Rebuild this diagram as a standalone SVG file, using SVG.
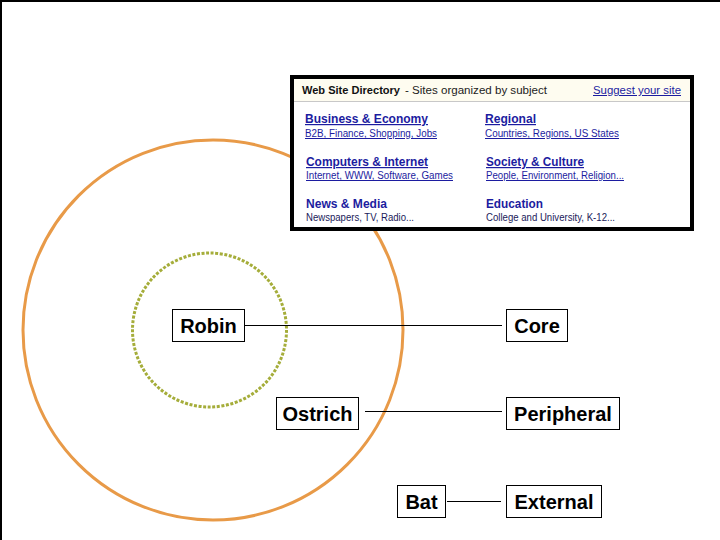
<svg xmlns="http://www.w3.org/2000/svg" width="720" height="540" viewBox="0 0 720 540">
<style>
.lbl{font-family:"Liberation Sans",Arial,sans-serif;font-size:20px;font-weight:bold;fill:#000;text-anchor:middle}
.box{fill:#fff;stroke:#000;stroke-width:1}
.conn{stroke:#000;stroke-width:1;fill:none}
.ss{font-family:"Liberation Sans",Arial,sans-serif}
.ttl{font-size:12px;font-weight:bold;fill:#1c1ca0}
.sub{font-size:10px;fill:#1c1ca0}
.subp{font-size:10px;fill:#1a1a5a}
</style>
<rect width="720" height="540" fill="#fff"/>
<path d="M1,540 V1 H720" fill="none" stroke="#000" stroke-width="2"/>

<g id="rings">
<circle cx="213" cy="330" r="190" fill="none" stroke="#e89a48" stroke-width="3"/>
<circle cx="209.5" cy="330" r="77" fill="none" stroke="#a5ad3a" stroke-width="3" stroke-dasharray="3 1.6"/>
</g>

<g id="screenshot">
<rect x="292" y="77" width="400" height="152" fill="#fff" stroke="#000" stroke-width="4"/>
<rect x="294" y="79" width="396" height="22" fill="#fefcf0"/>
<line x1="294" y1="101.5" x2="690" y2="101.5" stroke="#c8c8c8" stroke-width="1"/>
<g class="ss">
<text x="302" y="94" font-size="10" font-weight="bold" fill="#111" textLength="98" lengthAdjust="spacingAndGlyphs">Web Site Directory</text>
<text x="405" y="94" font-size="10" fill="#222" textLength="142" lengthAdjust="spacingAndGlyphs">- Sites organized by subject</text>
<text x="593" y="94" font-size="10" fill="#1c1ca0" text-decoration="underline" textLength="88" lengthAdjust="spacingAndGlyphs">Suggest your site</text>

<text class="ttl" x="305" y="123" text-decoration="underline" textLength="123" lengthAdjust="spacingAndGlyphs">Business &amp; Economy</text>
<text class="sub" x="305" y="137" text-decoration="underline" textLength="132" lengthAdjust="spacingAndGlyphs">B2B, Finance, Shopping, Jobs</text>
<text class="ttl" x="485" y="123" text-decoration="underline" textLength="51" lengthAdjust="spacingAndGlyphs">Regional</text>
<text class="sub" x="485" y="137" text-decoration="underline" textLength="134" lengthAdjust="spacingAndGlyphs">Countries, Regions, US States</text>

<text class="ttl" x="306" y="166" text-decoration="underline" textLength="122" lengthAdjust="spacingAndGlyphs">Computers &amp; Internet</text>
<text class="sub" x="306" y="179" text-decoration="underline" textLength="147" lengthAdjust="spacingAndGlyphs">Internet, WWW, Software, Games</text>
<text class="ttl" x="486" y="166" text-decoration="underline" textLength="98" lengthAdjust="spacingAndGlyphs">Society &amp; Culture</text>
<text class="sub" x="486" y="179" text-decoration="underline" textLength="138" lengthAdjust="spacingAndGlyphs">People, Environment, Religion...</text>

<text class="ttl" x="306" y="208" textLength="81" lengthAdjust="spacingAndGlyphs">News &amp; Media</text>
<text class="subp" x="306" y="221" textLength="108" lengthAdjust="spacingAndGlyphs">Newspapers, TV, Radio...</text>
<text class="ttl" x="486" y="208" textLength="57" lengthAdjust="spacingAndGlyphs">Education</text>
<text class="subp" x="486" y="221" textLength="129" lengthAdjust="spacingAndGlyphs">College and University, K-12...</text>
</g>
</g>

<g id="connectors">
<line class="conn" x1="245" y1="325.5" x2="502" y2="325.5"/>
<line class="conn" x1="365" y1="411.5" x2="502" y2="411.5"/>
<line class="conn" x1="447" y1="501.5" x2="501" y2="501.5"/>
</g>

<g id="robin"><rect class="box" x="172.5" y="309.5" width="72" height="32"/><text class="lbl" x="208.5" y="333">Robin</text></g>
<g id="core"><rect class="box" x="506.5" y="309.5" width="61" height="32"/><text class="lbl" x="537" y="333">Core</text></g>
<g id="ostrich"><rect class="box" x="276.5" y="397.5" width="82" height="32"/><text class="lbl" x="317.5" y="421">Ostrich</text></g>
<g id="peripheral"><rect class="box" x="506.5" y="397.5" width="113" height="32"/><text class="lbl" x="563" y="421">Peripheral</text></g>
<g id="bat"><rect class="box" x="397.5" y="485.5" width="48" height="32"/><text class="lbl" x="421.5" y="509">Bat</text></g>
<g id="external"><rect class="box" x="506.5" y="485.5" width="95" height="32"/><text class="lbl" x="554" y="509">External</text></g>
</svg>
